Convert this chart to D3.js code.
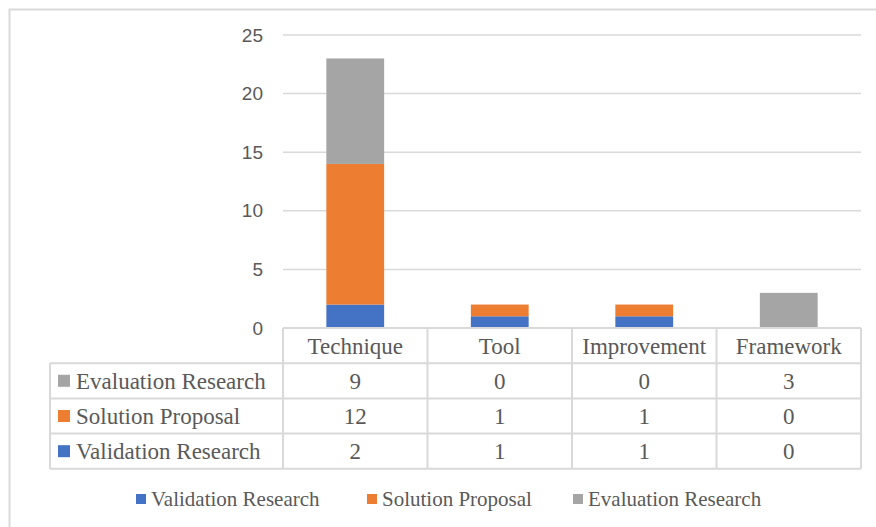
<!DOCTYPE html>
<html>
<head>
<meta charset="utf-8">
<script src="https://cdn.jsdelivr.net/npm/d3@7"></script>
<style>
  html, body { margin: 0; padding: 0; background: #fff; }
  svg { display: block; }
  .serif { font-family: "Liberation Serif", "DejaVu Serif", "Noto Serif", "Times New Roman", serif; }
  .sans { font-family: "Liberation Sans", Arial, sans-serif; }
</style>
</head>
<body>
<svg id="chart" width="876" height="527"></svg>
<script>
// Research types per contribution category
const categories = ["Technique", "Tool", "Improvement", "Framework"];
const seriesNames = ["Validation Research", "Solution Proposal", "Evaluation Research"];
const validationResearch = [2, 1, 1, 0];
const solutionProposal = [12, 1, 1, 0];
const evaluationResearch = [9, 0, 0, 3];
const yTicks = [0, 5, 10, 15, 20, 25];
const seriesColors = ["#4472C4", "#ED7D31", "#A5A5A5"];

const rows = categories.map((c, i) => ({
  category: c,
  "Validation Research": validationResearch[i],
  "Solution Proposal": solutionProposal[i],
  "Evaluation Research": evaluationResearch[i]
}));

const svg = d3.select("#chart");
const textColor = "#595959";
const lineColor = "#D9D9D9";

// chart frame
svg.append("rect")
  .attr("x", 9.5).attr("y", 9.5)
  .attr("width", 920).attr("height", 600)
  .attr("fill", "none").attr("stroke", lineColor).attr("stroke-width", 2);

const plot = { left: 283, right: 861, top: 35, bottom: 328 };

const x = d3.scaleBand().domain(categories).range([plot.left, plot.right]).padding(0);
const y = d3.scaleLinear().domain([0, 25]).range([plot.bottom, plot.top]);
const color = d3.scaleOrdinal().domain(seriesNames).range(seriesColors);

// gridlines
svg.append("g")
  .selectAll("line")
  .data(yTicks)
  .join("line")
  .attr("x1", plot.left).attr("x2", plot.right)
  .attr("y1", d => y(d)).attr("y2", d => y(d))
  .attr("stroke", lineColor).attr("stroke-width", 1.5);

// y axis labels
const yAxis = d3.axisLeft(y).tickValues(yTicks).tickSize(0).tickPadding(0);
const yg = svg.append("g").attr("transform", `translate(263,0)`).call(yAxis);
yg.select(".domain").remove();
yg.attr("font-family", null).attr("font-size", null);
yg.selectAll("text")
  .attr("class", "sans")
  .attr("font-size", 19)
  .attr("fill", textColor);

// stacked columns
const stack = d3.stack().keys(seriesNames);
const layers = stack(rows);
const barW = x.bandwidth() * 0.4;

svg.append("g")
  .selectAll("g")
  .data(layers)
  .join("g")
  .attr("fill", d => color(d.key))
  .selectAll("rect")
  .data(d => d)
  .join("rect")
  .attr("x", d => x(d.data.category) + (x.bandwidth() - barW) / 2)
  .attr("y", d => y(d[1]))
  .attr("width", barW)
  .attr("height", d => y(d[0]) - y(d[1]));

// data table
const tableLeft = 50;
const rowH = 35.2;
const headerTop = plot.bottom;
const tableRows = [
  { name: "Evaluation Research", values: evaluationResearch },
  { name: "Solution Proposal", values: solutionProposal },
  { name: "Validation Research", values: validationResearch }
];
const tableBottom = headerTop + rowH * (tableRows.length + 1);
const tg = svg.append("g");
const border = sel => sel.attr("stroke", lineColor).attr("stroke-width", 2).attr("fill", "none");

// horizontal lines
tg.append("line").attr("x1", plot.left).attr("x2", plot.right)
  .attr("y1", headerTop).attr("y2", headerTop).call(border);
tableRows.forEach((r, i) => {
  const yy = headerTop + rowH * (i + 1);
  tg.append("line").attr("x1", tableLeft).attr("x2", plot.right)
    .attr("y1", yy).attr("y2", yy).call(border);
});
tg.append("line").attr("x1", tableLeft).attr("x2", plot.right)
  .attr("y1", tableBottom).attr("y2", tableBottom).call(border);

// vertical lines
tg.append("line").attr("x1", tableLeft).attr("x2", tableLeft)
  .attr("y1", headerTop + rowH).attr("y2", tableBottom).call(border);
categories.forEach(c => {
  tg.append("line").attr("x1", x(c)).attr("x2", x(c))
    .attr("y1", headerTop).attr("y2", tableBottom).call(border);
});
tg.append("line").attr("x1", plot.right).attr("x2", plot.right)
  .attr("y1", headerTop).attr("y2", tableBottom).call(border);

// header text
tg.selectAll("text.cat")
  .data(categories)
  .join("text")
  .attr("class", "serif")
  .attr("x", d => x(d) + x.bandwidth() / 2)
  .attr("y", headerTop + rowH / 2)
  .attr("dy", "0.35em")
  .attr("text-anchor", "middle")
  .attr("font-size", 23)
  .attr("fill", textColor)
  .text(d => d);

// body rows
tableRows.forEach((r, i) => {
  const cy = headerTop + rowH * (i + 1) + rowH / 2;
  tg.append("rect")
    .attr("x", 58).attr("y", cy - 6)
    .attr("width", 12).attr("height", 12)
    .attr("fill", color(r.name));
  tg.append("text")
    .attr("class", "serif")
    .attr("x", 76).attr("y", cy).attr("dy", "0.35em")
    .attr("font-size", 23)
    .attr("fill", textColor)
    .text(r.name);
  tg.selectAll(null)
    .data(r.values)
    .join("text")
    .attr("class", "serif")
    .attr("x", (d, j) => x(categories[j]) + x.bandwidth() / 2)
    .attr("y", cy).attr("dy", "0.35em")
    .attr("text-anchor", "middle")
    .attr("font-size", 23)
    .attr("fill", textColor)
    .text(d => d);
});

// legend
const legendItems = [
  { name: "Validation Research", x: 136 },
  { name: "Solution Proposal", x: 367 },
  { name: "Evaluation Research", x: 573 }
];
const lg = svg.append("g");
legendItems.forEach(it => {
  lg.append("rect")
    .attr("x", it.x).attr("y", 494)
    .attr("width", 10).attr("height", 10)
    .attr("fill", color(it.name));
  lg.append("text")
    .attr("class", "serif")
    .attr("x", it.x + 15).attr("y", 499).attr("dy", "0.35em")
    .attr("font-size", 21)
    .attr("fill", textColor)
    .text(it.name);
});
</script>
</body>
</html>
